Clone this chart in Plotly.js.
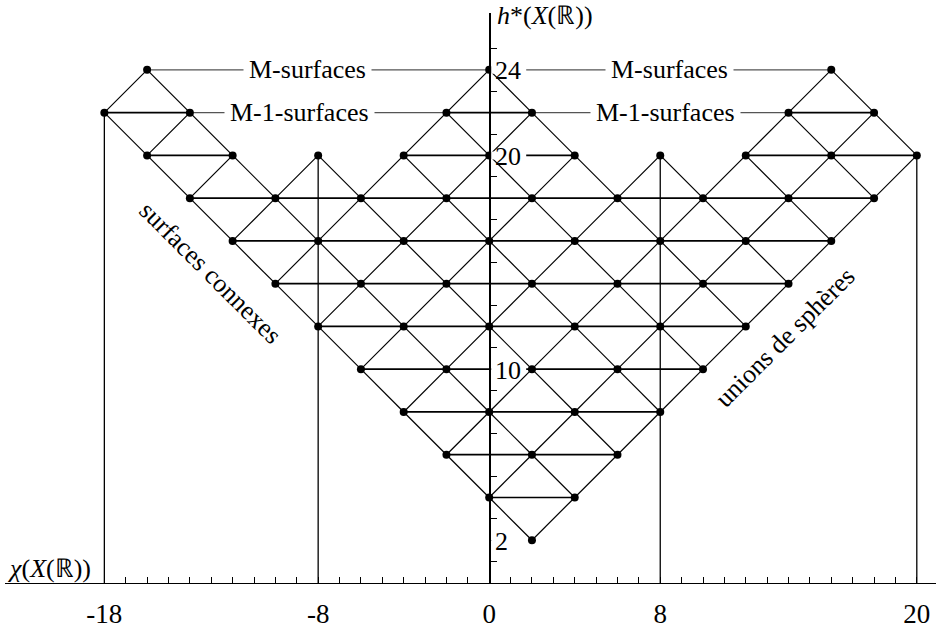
<!DOCTYPE html>
<html>
<head>
<meta charset="utf-8">
<script src="https://cdn.plot.ly/plotly-3.0.1.min.js"></script>
<style>
  html, body { margin: 0; padding: 0; background: #fff; }
  #plot { width: 936px; height: 628px; }
</style>
</head>
<body>
<div id="plot"></div>
<script>
// rows of the diagram: h*(X(R)) and the chi values found on that row
const rowH = [24, 22, 20, 18, 16, 14, 12, 10, 8, 6, 4, 2];
const rowChi = [
  [-16, 0, 16],
  [-18, -14, -2, 2, 14, 18],
  [-16, -12, -8, -4, 0, 4, 8, 12, 16, 20],
  [-14, -10, -6, -2, 2, 6, 10, 14, 18],
  [-12, -8, -4, 0, 4, 8, 12, 16],
  [-10, -6, -2, 2, 6, 10, 14],
  [-8, -4, 0, 4, 8, 12],
  [-6, -2, 2, 6, 10],
  [-4, 0, 4, 8],
  [-2, 2, 6],
  [0, 4],
  [2],
];

// vertical stems down to the chi axis
const stemChi = [-18, -8, 8, 20];
const stemTop = [22, 20, 20, 20];

// labelled rows
const labelRows = [24, 22];
const labelText = ["M-surfaces", "M-1-surfaces"];

// tick labels
const xTickVals = [-18, -8, 0, 8, 20];
const yTickVals = [24, 20, 10, 2];

const FONT = "Liberation Serif";

function hasPoint(x, h) {
  const i = rowH.indexOf(h);
  return i >= 0 && rowChi[i].includes(x);
}

const ptX = [], ptY = [];
const diag = { x: [], y: [] };
const horiz = { x: [], y: [] };
const guide = { x: [], y: [] };

rowH.forEach((h, i) => {
  rowChi[i].forEach((x) => {
    ptX.push(x);
    ptY.push(h);
    [-2, 2].forEach((dx) => {
      if (hasPoint(x + dx, h - 2)) {
        diag.x.push(x, x + dx, null);
        diag.y.push(h, h - 2, null);
      }
    });
    if (hasPoint(x + 4, h) && hasPoint(x + 2, h + 2)) {
      horiz.x.push(x, x + 4, null);
      horiz.y.push(h, h, null);
    }
  });
});

// guide lines that carry the row labels
labelRows.forEach((h) => {
  const row = rowChi[rowH.indexOf(h)];
  for (let k = 0; k < row.length - 1; k++) {
    const a = row[k], b = row[k + 1];
    if (!(b - a === 4 && hasPoint(a + 2, h + 2))) {
      guide.x.push(a, b, null);
      guide.y.push(h, h, null);
    }
  }
});

const stem = { x: [], y: [] };
stemChi.forEach((x, i) => {
  stem.x.push(x, x, null);
  stem.y.push(0, stemTop[i], null);
});

const xMinor = [];
for (let v = -18; v <= 20; v++) xMinor.push(v);
const yMinor = [];
for (let v = 1; v <= 25; v++) yMinor.push(v);

const data = [
  { x: guide.x, y: guide.y, type: "scatter", mode: "lines", line: { color: "#555", width: 1.1 }, hoverinfo: "skip" },
  { x: stem.x, y: stem.y, type: "scatter", mode: "lines", line: { color: "#000", width: 1.3 }, hoverinfo: "skip" },
  { x: diag.x, y: diag.y, type: "scatter", mode: "lines", line: { color: "#000", width: 1.2 }, hoverinfo: "skip" },
  { x: horiz.x, y: horiz.y, type: "scatter", mode: "lines", line: { color: "#000", width: 1.7 }, hoverinfo: "skip" },
  { x: ptX, y: ptY, type: "scatter", mode: "markers", marker: { color: "#000", size: 8 }, cliponaxis: false },
];

const annotations = [];
const shapes = [];
labelRows.forEach((h, i) => {
  const xs = i === 0 ? [-8.5, 8.45] : [-8.85, 8.26];
  xs.forEach((x) => {
    annotations.push({
      x: x, y: h, text: labelText[i], showarrow: false,
      bgcolor: "#fff", borderpad: 5,
      font: { family: FONT, size: 26, color: "#000" },
    });
  });
});
// y tick labels sit right of the axis, with a white gap cut in the row lines
yTickVals.forEach((v) => {
  shapes.push({
    type: "rect", layer: "above",
    xsizemode: "pixel", xanchor: 0, x0: 2, x1: String(v).length > 1 ? 37 : 24,
    ysizemode: "pixel", yanchor: v, y0: -4, y1: 4,
    fillcolor: "#fff", line: { width: 0 },
  });
  annotations.push({
    x: 0, y: v, text: String(v), showarrow: false,
    xanchor: "left", xshift: 4, yshift: -1,
    font: { family: FONT, size: 26, color: "#000" },
  });
});
annotations.push(
  {
    x: 0, y: 26.55, text: "<i>h</i>*(<i>X</i>(ℝ))", showarrow: false,
    xanchor: "left", xshift: 6,
    font: { family: FONT, size: 26, color: "#000" },
  },
  {
    xref: "paper", x: 0, y: 0.68, text: "<i>χ</i>(<i>X</i>(ℝ))", showarrow: false,
    xanchor: "left",
    font: { family: FONT, size: 26, color: "#000" },
  },
  {
    x: -13.06, y: 14.5, text: "surfaces connexes", showarrow: false, textangle: 45,
    font: { family: FONT, size: 26, color: "#000" },
  },
  {
    x: 13.84, y: 11.46, text: "unions de sphères", showarrow: false, textangle: -45,
    font: { family: FONT, size: 26, color: "#000" },
  }
);

const layout = {
  width: 936,
  height: 628,
  margin: { l: 5, r: 0, t: 13, b: 45 },
  paper_bgcolor: "#fff",
  plot_bgcolor: "#fff",
  showlegend: false,
  xaxis: {
    range: [-22.647, 20.898],
    showgrid: false,
    zeroline: false,
    showline: true,
    linecolor: "#000",
    linewidth: 1.3,
    ticks: "inside",
    ticklen: 6,
    tickwidth: 1,
    tickcolor: "#000",
    tickvals: xMinor,
    ticktext: xMinor.map((v) => (xTickVals.includes(v) ? String(v) : "")),
    ticklabelstandoff: 6,
    tickfont: { family: FONT, size: 27, color: "#000" },
  },
  yaxis: {
    range: [0, 26.66],
    anchor: "free",
    position: 0.52009,
    showgrid: false,
    zeroline: false,
    showline: true,
    linecolor: "#000",
    linewidth: 1.4,
    ticks: "inside",
    ticklen: 6,
    tickwidth: 1,
    tickcolor: "#000",
    tickvals: yMinor,
    showticklabels: false,
  },
  shapes: shapes,
  annotations: annotations,
};

Plotly.newPlot("plot", data, layout, { displayModeBar: false, staticPlot: true });
</script>
</body>
</html>
